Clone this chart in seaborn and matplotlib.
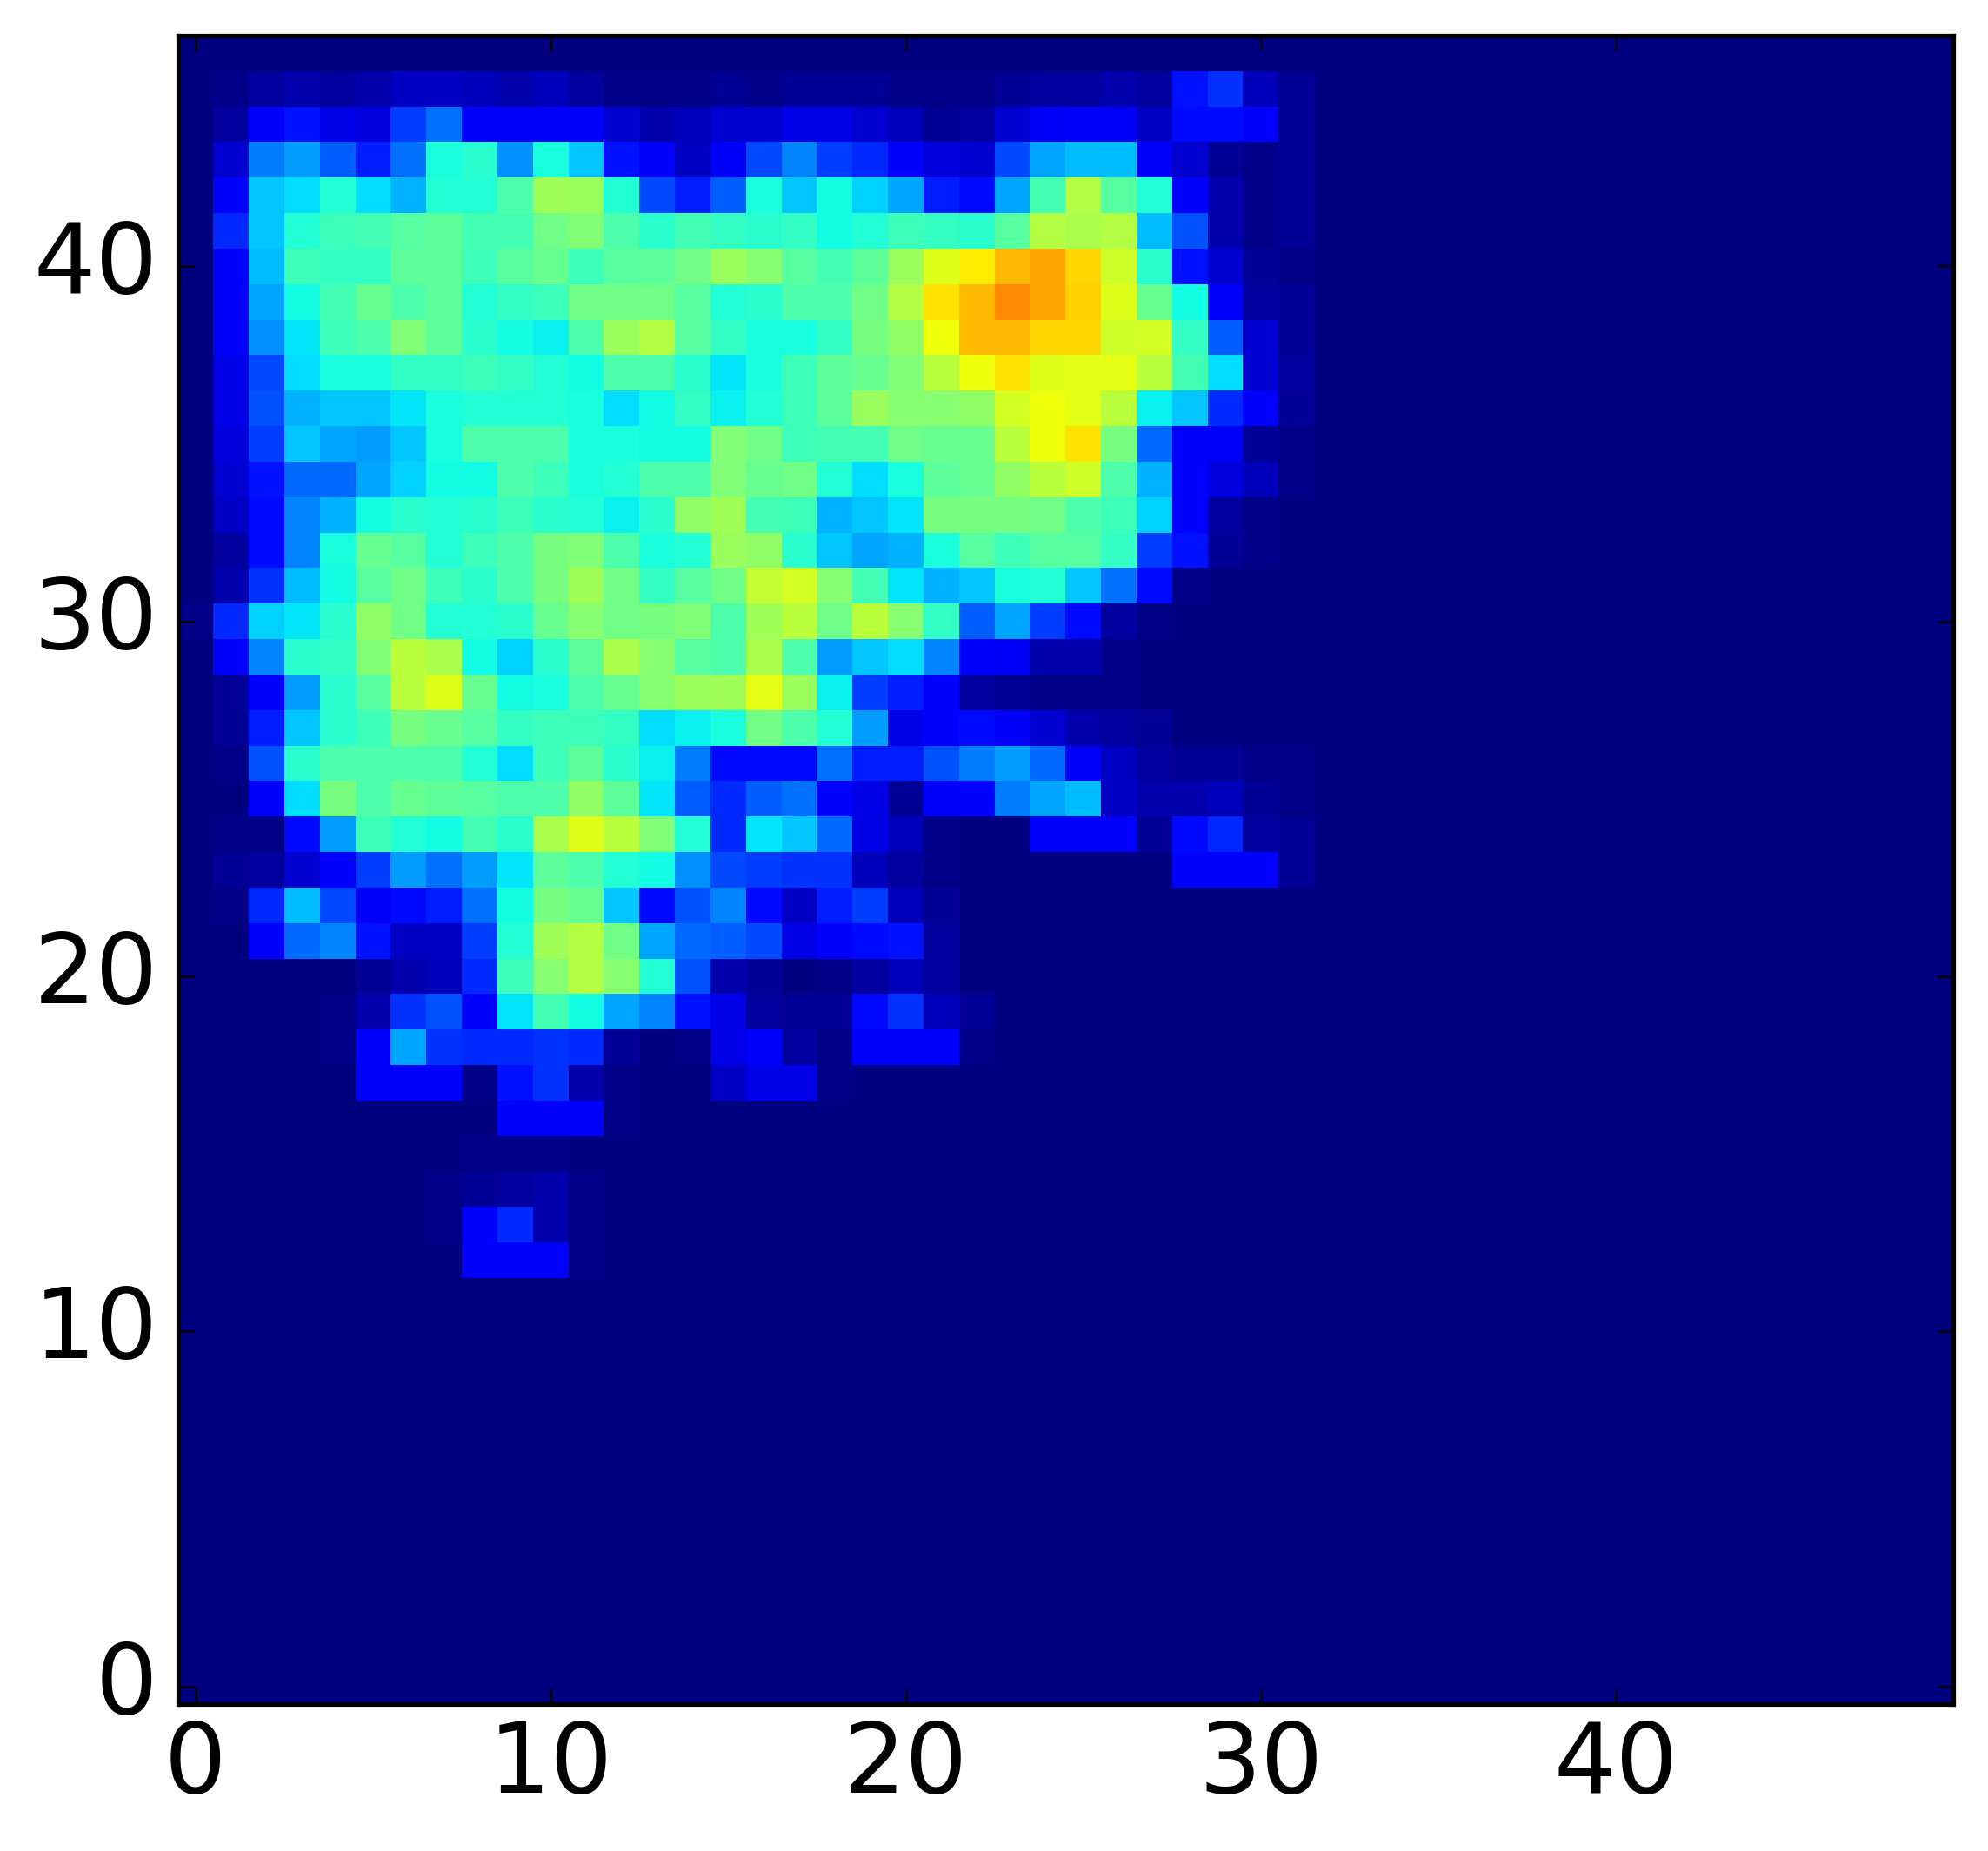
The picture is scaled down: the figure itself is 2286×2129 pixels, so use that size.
import numpy as np
import pandas as pd
import matplotlib
matplotlib.use("Agg")
import matplotlib.pyplot as plt
import seaborn as sns

# grid size of the map
n_cols = 50
n_rows = 47

# values, columns 0-32 only, everything else is 0
# rows y=46 down to y=35
rows_upper = [
    [0]*33,
    [0,1,3,4,3,4,6,6,5,4,5,3,1,1,1,2,1,2,2,2,1,1,1,2,3,3,4,3,14,17,5,2,0],
    [0,3,11,14,9,8,18,23,12,12,11,11,7,4,5,7,7,9,9,7,5,2,3,7,10,11,10,6,13,13,12,2,0],
    [0,7,24,27,21,15,23,37,39,26,37,31,14,11,6,10,19,25,18,16,11,8,7,19,28,30,30,12,7,2,1,2,0],
    [0,12,31,33,38,33,29,38,38,43,53,52,38,19,15,21,37,31,36,32,28,15,13,28,42,55,44,38,11,4,1,2,0],
    [0,16,31,38,41,42,44,45,42,42,47,49,43,39,42,40,39,40,36,38,41,40,39,44,55,54,55,30,20,4,1,2,0],
    [0,12,30,41,40,40,45,45,41,44,46,41,44,45,47,52,50,44,42,45,52,60,64,69,71,66,58,39,14,7,2,1,0],
    [0,11,28,36,42,46,43,45,38,40,41,47,47,47,44,38,39,43,43,47,55,65,69,74,71,67,60,46,36,11,3,2,0],
    [0,11,26,34,41,43,49,45,39,36,35,43,52,55,44,40,37,37,40,48,51,62,69,69,66,66,58,59,40,21,7,2,0],
    [0,9,19,33,37,37,40,40,41,40,38,36,43,43,39,34,37,41,45,46,49,56,62,65,60,61,61,56,42,33,7,3,0],
    [0,9,20,29,31,31,34,37,38,38,38,37,33,36,40,35,38,41,45,52,50,50,51,59,62,61,56,35,31,16,12,2,0],
    [0,8,18,31,28,27,31,37,43,43,43,37,37,36,36,49,47,41,42,42,47,46,46,56,62,65,48,22,11,10,2,1,0],
]
# rows y=34 down to y=23
rows_middle = [
    [0,7,14,22,22,28,32,36,36,43,41,37,38,43,43,49,46,47,38,33,37,45,46,51,56,58,43,29,11,8,5,1,0],
    [0,6,13,25,29,36,39,38,39,41,39,38,35,39,51,53,42,41,29,31,34,48,48,48,47,43,41,32,11,3,1,0,0],
    [0,3,13,25,37,46,44,38,41,43,48,49,43,37,38,52,51,39,31,28,29,37,44,41,44,44,40,18,14,2,1,0,0],
    [0,4,17,30,36,44,47,41,39,43,48,53,47,40,44,47,57,59,50,42,34,29,31,37,38,31,23,13,1,0,0,0,0],
    [1,16,32,34,39,51,47,38,38,39,46,50,47,48,49,43,53,56,47,56,50,40,21,28,18,13,3,1,0,0,0,0,0],
    [0,11,25,39,40,49,56,54,36,32,39,45,54,50,44,43,54,43,27,31,33,25,11,10,4,4,1,0,0,0,0,0,0],
    [0,2,11,27,39,44,56,60,46,36,37,43,46,50,52,53,61,52,35,18,15,12,3,2,1,1,1,0,0,0,0,0,0],
    [0,2,15,31,39,41,48,46,44,40,41,41,40,33,35,37,47,43,38,27,9,12,13,10,7,4,3,2,0,0,0,0,0],
    [0,1,20,39,43,43,43,43,38,33,41,45,39,35,24,13,13,13,23,15,15,20,24,27,22,10,6,3,2,2,1,1,0],
    [0,0,11,33,48,43,46,45,44,43,43,51,45,34,21,16,21,23,12,9,2,11,11,24,28,30,6,4,4,5,2,1,0],
    [0,1,1,13,27,41,38,36,42,39,54,60,56,49,38,16,34,31,22,9,5,1,0,0,11,11,11,2,13,16,3,2,0],
    [0,2,3,7,11,18,27,23,27,34,45,43,38,36,26,19,18,17,17,5,3,1,0,0,0,0,0,0,12,12,12,2,0],
]
# rows y=22 down to y=12
rows_lower = [
    [0,1,16,30,19,10,13,15,23,36,48,46,31,13,20,25,13,6,15,18,5,2,0,0,0,0,0,0,0,0,0,0,0],
    [0,0,11,22,25,14,6,6,18,38,53,55,47,28,22,21,19,9,11,13,14,3,0,0,0,0,0,0,0,0,0,0,0],
    [0,0,0,0,0,2,4,5,16,41,50,55,50,38,20,4,2,0,1,3,5,3,0,0,0,0,0,0,0,0,0,0,0],
    [0,0,0,0,1,4,17,20,12,34,42,36,28,25,14,9,3,2,2,13,17,5,2,0,0,0,0,0,0,0,0,0,0],
    [0,0,0,0,1,12,28,17,16,16,17,16,2,0,1,9,11,3,1,11,11,11,1,0,0,0,0,0,0,0,0,0,0],
    [0,0,0,0,0,11,11,11,1,14,17,4,1,0,0,6,9,9,1,0,0,0,0,0,0,0,0,0,0,0,0,0,0],
    [0,0,0,0,0,0,0,0,0,11,11,11,1,0,0,0,0,0,0,0,0,0,0,0,0,0,0,0,0,0,0,0,0],
    [0,0,0,0,0,0,0,0,1,1,1,0,0,0,0,0,0,0,0,0,0,0,0,0,0,0,0,0,0,0,0,0,0],
    [0,0,0,0,0,0,0,1,2,3,4,1,0,0,0,0,0,0,0,0,0,0,0,0,0,0,0,0,0,0,0,0,0],
    [0,0,0,0,0,0,0,1,12,16,4,1,0,0,0,0,0,0,0,0,0,0,0,0,0,0,0,0,0,0,0,0,0],
    [0,0,0,0,0,0,0,0,11,11,11,1,0,0,0,0,0,0,0,0,0,0,0,0,0,0,0,0,0,0,0,0,0],
]
x_tick_labels = [0, 10, 20, 30, 40]
y_tick_labels = [0, 10, 20, 30, 40]

# build full matrix, row 0 of the frame is y=0
grid = np.zeros((n_rows, n_cols))
top_rows = np.array(rows_upper + rows_middle + rows_lower)
for i, row in enumerate(top_rows):
    grid[n_rows - 1 - i, :33] = row
df = pd.DataFrame(grid)

plt.rcParams['font.family'] = ['DejaVu Sans']
fig = plt.figure(figsize=(7.62, 7.0967), dpi=300)
ax = fig.add_axes([204.5 / 2286, 1 - 1960 / 2129, (2246 - 204.5) / 2286, (1960 - 41) / 2129])

sns.heatmap(df, cmap='jet', vmin=0, vmax=97, cbar=False, square=False, ax=ax)

ax.set_xlim(0, n_cols)
ax.set_ylim(0, n_rows)
# heatmap cell centres sit at +0.5
ax.set_xticks([t + 0.5 for t in x_tick_labels])
ax.set_xticklabels(x_tick_labels, rotation=0)
ax.set_yticks([t + 0.5 for t in y_tick_labels])
ax.set_yticklabels(y_tick_labels, rotation=0)
ax.set_xlabel('')
ax.set_ylabel('')
ax.tick_params(direction='in', top=True, right=True, length=4.3, width=0.6, labelsize=27, color='black')
ax.tick_params(axis='x', pad=4)
ax.tick_params(axis='y', pad=5.5)
for spine in ax.spines.values():
    spine.set_visible(True)
    spine.set_linewidth(1.25)
    spine.set_color('black')

fig.savefig('out.png', dpi=300)
